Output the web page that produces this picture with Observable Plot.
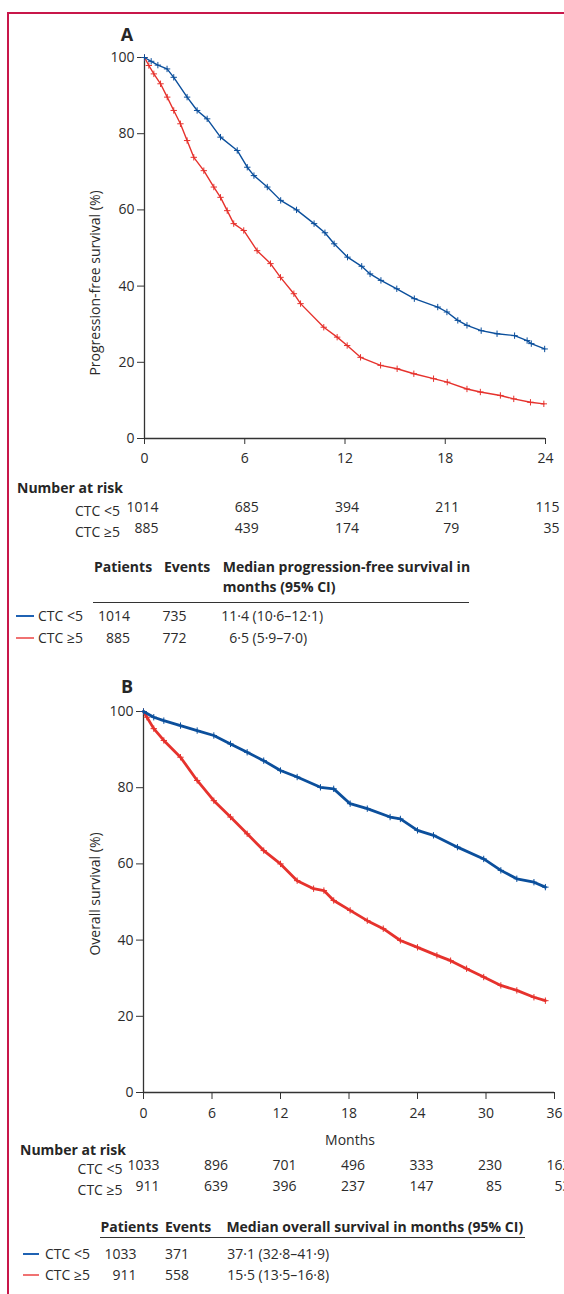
<!DOCTYPE html>
<html><head><meta charset="utf-8">
<script src="https://cdn.jsdelivr.net/npm/d3@7"></script>
<script src="https://cdn.jsdelivr.net/npm/@observablehq/plot@0.6"></script>
<style>
body{margin:0;background:#fff;}
#page{position:relative;width:564px;height:1294px;overflow:hidden;font-family:"Open Sans",sans-serif;color:#2b2b2b;font-size:14px;background:#fff;}
.t{position:absolute;white-space:nowrap;line-height:18px;}
.b{font-weight:bold;color:#262626;}
.plotwrap{position:absolute;left:0;}
</style></head><body><div id="page"></div>
<script>
// ---------- Data ----------
// Panel A: progression-free survival
const pfsLowMonths  = [0,0.4,0.8,1.35,1.75,2.55,3.15,3.75,4.55,5.55,6.15,6.55,7.35,8.15,9.1,10.15,10.8,11.35,12.15,13.0,13.5,14.15,15.1,16.15,17.55,18.1,18.75,19.3,20.15,21.1,22.15,22.9,23.15,23.95];
const pfsLowSurv    = [100,99,98,97,94.8,89.6,86.1,83.9,79.1,75.6,71.2,69,66,62.5,60,56.4,54,51.1,47.6,45.2,43.2,41.5,39.3,36.7,34.5,33.2,31,29.7,28.3,27.5,27,25.7,24.9,23.5];
const pfsHighMonths = [0,0.26,0.56,0.96,1.36,1.75,2.15,2.55,2.95,3.55,4.15,4.55,4.95,5.34,5.94,6.74,7.54,8.14,8.94,9.34,10.73,11.53,12.13,12.93,14.13,15.12,16.12,17.3,18.12,19.3,20.1,21.3,22.1,23.1,23.9];
const pfsHighSurv   = [100,97.9,95.7,93.1,89.6,86.1,82.6,78.2,73.8,70.3,66,63.3,59.8,56.4,54.6,49.3,45.9,42.3,38,35.4,29.2,26.6,24.4,21.3,19.2,18.3,17,15.7,14.8,13,12.2,11.3,10.4,9.5,9.1];
const pfsRiskMonths = [0,6,12,18,24];
const pfsRiskLow    = [1014,685,394,211,115];
const pfsRiskHigh   = [885,439,174,79,35];

// Panel B: overall survival
const osLowMonths  = [0,0.9,1.78,3.24,4.7,6.16,7.62,9.08,10.53,12.0,13.46,15.5,16.66,18.1,19.6,21.6,22.5,24.0,25.4,27.5,29.8,31.3,32.7,34.2,35.2];
const osLowSurv    = [100,98.5,97.6,96.3,95,93.7,91.5,89.3,87.1,84.5,82.8,80.1,79.7,75.8,74.5,72.3,71.8,68.8,67.5,64.4,61.3,58.3,56.1,55.2,53.9];
const osHighMonths = [0,0.3,0.9,1.78,3.24,4.7,6.16,7.62,9.08,10.53,12.0,13.46,14.9,15.8,16.66,18.1,19.6,21.0,22.5,24.0,25.7,26.9,28.3,29.8,31.3,32.7,34.2,35.2];
const osHighSurv   = [100,98.5,95.5,92.4,88,81.9,76.6,72.3,67.9,63.5,60,55.6,53.5,53,50.4,47.8,45.1,43,39.9,38.1,36,34.6,32.5,30.3,28.1,26.8,25,24.1];
const osRiskMonths = [0,6,12,18,24,30,36];
const osRiskLow    = [1033,896,701,496,333,230,162];
const osRiskHigh   = [911,639,396,237,147,85,53];

// Summary tables
const groups       = ["CTC <5","CTC \u22655"];
const pfsPatients  = [1014,885];
const pfsEvents    = [735,772];
const pfsMedian    = [11.4,6.5];
const pfsCiLow     = [10.6,5.9];
const pfsCiHigh    = [12.1,7.0];
const osPatients   = [1033,911];
const osEvents     = [371,558];
const osMedian     = [37.1,15.5];
const osCiLow      = [32.8,13.5];
const osCiHigh     = [41.9,16.8];

// ---------- Styling ----------
const BLUE = "#0b4f9c", RED = "#e6322d";
const LEG_BLUE = "#1f62b3", LEG_RED = "#f07272";
const AXIS = "#333";
const page = document.getElementById("page");
const fmt = v => v.toFixed(1).replace(".", "\u00b7");

function put(txt, x, y, cls = "", align = "left") {
  const d = document.createElement("div");
  d.className = "t " + cls;
  d.textContent = txt;
  d.style.left = x + "px";
  d.style.top = (y - 9) + "px";
  if (align === "right") d.style.transform = "translateX(-100%)";
  if (align === "center") d.style.transform = "translateX(-50%)";
  page.appendChild(d);
  return d;
}
function rect(x, y, w, h, color) {
  const d = document.createElement("div");
  Object.assign(d.style, {position:"absolute", left:x+"px", top:y+"px", width:w+"px", height:h+"px", background:color});
  page.appendChild(d);
}
function vlabel(txt, x, y) {
  const d = document.createElement("div");
  d.className = "t";
  d.textContent = txt;
  d.style.left = x + "px"; d.style.top = y + "px";
  d.style.transform = "translate(-50%,-50%) rotate(-90deg)";
  page.appendChild(d);
}
function panelLetter(txt, x, y) {
  const d = put(txt, x, y, "b", "center");
  d.style.fontSize = "18px"; d.style.lineHeight = "18px";
}

const toRows = (ms, vs) => ms.map((m, i) => ({month: m, surv: vs[i]}));
const toRisk = (ms, ns) => ms.map((m, i) => ({month: m, n: ns[i]}));

function km({top, height, mTop, mBottom, mLeft, mRight, xMax, xTicks, low, high, riskLow, riskHigh, lineW, dotR, dyRisk, dxRisk, xTickSize, xTickPad}) {
  const svg = Plot.plot({
    width: 564, height,
    marginTop: mTop, marginBottom: mBottom, marginLeft: mLeft, marginRight: mRight,
    style: {fontFamily: "'Open Sans', sans-serif", fontSize: "14px", color: "#2b2b2b", background: "transparent", overflow: "visible"},
    x: {domain: [0, xMax]},
    y: {domain: [0, 100]},
    marks: [
      Plot.axisY({ticks: [0,20,40,60,80,100], tickSize: 7, tickPadding: 3, label: null, stroke: AXIS}),
      Plot.axisX({ticks: xTicks, tickSize: xTickSize, tickPadding: xTickPad, label: null, stroke: AXIS}),
      Plot.ruleX([0], {stroke: AXIS, strokeWidth: 1.3}),
      Plot.ruleY([0], {stroke: AXIS, strokeWidth: 1.3}),
      Plot.line(high, {x: "month", y: "surv", stroke: RED, strokeWidth: lineW}),
      Plot.dot(high, {x: "month", y: "surv", symbol: "plus", r: dotR, stroke: RED, strokeWidth: 1}),
      Plot.line(low, {x: "month", y: "surv", stroke: BLUE, strokeWidth: lineW}),
      Plot.dot(low, {x: "month", y: "surv", symbol: "plus", r: dotR, stroke: BLUE, strokeWidth: 1}),
      Plot.text(riskLow, {x: "month", text: d => String(d.n), frameAnchor: "bottom", dy: dyRisk[0], dx: dxRisk, textAnchor: "end", fill: "#2b2b2b"}),
      Plot.text(riskHigh, {x: "month", text: d => String(d.n), frameAnchor: "bottom", dy: dyRisk[1], dx: dxRisk, textAnchor: "end", fill: "#2b2b2b"})
    ]
  });
  const w = document.createElement("div");
  w.className = "plotwrap";
  w.style.top = top + "px";
  w.appendChild(svg);
  page.appendChild(w);
}

// ---------- Border ----------
rect(7, 12, 1.6, 1294 - 12, "#c8164a");
rect(7, 12, 564 - 7, 1.6, "#c8164a");

// ---------- Panel A ----------
km({top: 0, height: 560, mTop: 57, mBottom: 122, mLeft: 144, mRight: 19, xMax: 24, xTicks: [0,6,12,18,24],
    low: toRows(pfsLowMonths, pfsLowSurv), high: toRows(pfsHighMonths, pfsHighSurv),
    riskLow: toRisk(pfsRiskMonths, pfsRiskLow), riskHigh: toRisk(pfsRiskMonths, pfsRiskHigh),
    lineW: 1.4, dotR: 2.2, dyRisk: [73, 94], dxRisk: 14, xTickSize: 6, xTickPad: 9});
panelLetter("A", 127, 34);
vlabel("Progression-free survival (%)", 95, 283);
put("Number at risk", 17, 488.3, "b");
put(groups[0], 75, 510.7);
put(groups[1], 75, 531.7);

// Summary A
put("Patients", 94, 566.7, "b");
put("Events", 164, 566.7, "b");
put("Median progression-free survival in", 222.7, 566.7, "b");
put("months (95% CI)", 222.7, 586.7, "b");
rect(93, 601.7, 376, 1.3, "#333");
[616, 638].forEach((y, i) => {
  rect(16, y - 1, 18, 2, i === 0 ? LEG_BLUE : LEG_RED);
  put(groups[i], 38, y);
  put(String(pfsPatients[i]), 130, y, "", "right");
  put(String(pfsEvents[i]), 162.5, y);
  put(fmt(pfsMedian[i]), 249, y, "", "right");
  put("(" + fmt(pfsCiLow[i]) + "\u2013" + fmt(pfsCiHigh[i]) + ")", 252.5, y);
});

// ---------- Panel B ----------
km({top: 650, height: 560, mTop: 61, mBottom: 118, mLeft: 143, mRight: 10, xMax: 36, xTicks: [0,6,12,18,24,30,36],
    low: toRows(osLowMonths, osLowSurv), high: toRows(osHighMonths, osHighSurv),
    riskLow: toRisk(osRiskMonths, osRiskLow), riskHigh: toRisk(osRiskMonths, osRiskHigh),
    lineW: 2.8, dotR: 2.2, dyRisk: [77, 98], dxRisk: 16, xTickSize: 7, xTickPad: 9});
panelLetter("B", 127, 685.5);
vlabel("Overall survival (%)", 95, 894);
put("Months", 350, 1140, "", "center");
put("Number at risk", 20, 1150, "b");
put(groups[0], 77.6, 1169.3);
put(groups[1], 77.6, 1190);

// Summary B
put("Patients", 100.4, 1226.7, "b");
put("Events", 165, 1226.7, "b");
put("Median overall survival in months (95% CI)", 226.4, 1226.7, "b");
rect(100, 1236.8, 425, 1.3, "#333");
[1254, 1275].forEach((y, i) => {
  rect(22.7, y - 1, 16.5, 2, i === 0 ? LEG_BLUE : LEG_RED);
  put(groups[i], 45, y);
  put(String(osPatients[i]), 136.5, y, "", "right");
  put(String(osEvents[i]), 165, y);
  put(fmt(osMedian[i]), 255, y, "", "right");
  put("(" + fmt(osCiLow[i]) + "\u2013" + fmt(osCiHigh[i]) + ")", 258.5, y);
});
</script></body></html>
